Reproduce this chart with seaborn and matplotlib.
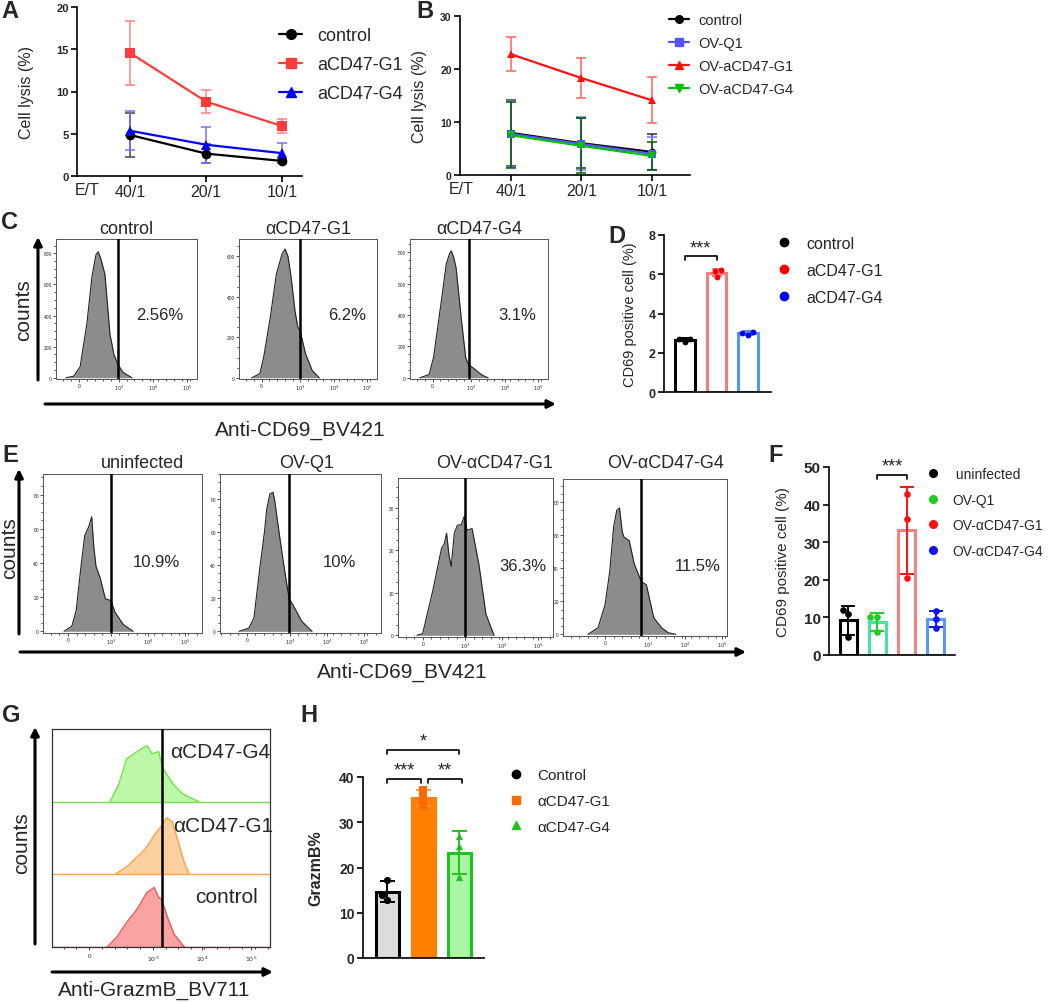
# Multi-panel figure: cell lysis, CD69 and granzyme B activation

import numpy as np
import pandas as pd
import matplotlib.pyplot as plt
import seaborn as sns
from matplotlib.lines import Line2D
from matplotlib.ticker import AutoMinorLocator

sns.set_theme(style="ticks")
plt.rcParams["font.family"] = ["Liberation Sans", "DejaVu Sans"]

# ---------------- data ----------------
et_ratio = ["40/1", "20/1", "10/1"]

# panel A (mean, SD)
a_labels = ["control", "aCD47-G1", "aCD47-G4"]
a_control = [4.85, 2.65, 1.78]
a_control_sd = [2.65, 1.1, 0.2]
a_g1 = [14.55, 8.8, 5.9]
a_g1_sd = [3.75, 1.4, 0.8]
a_g4 = [5.35, 3.7, 2.7]
a_g4_sd = [2.3, 2.15, 1.2]

# panel B (mean, SD)
b_labels = ["control", "OV-Q1", "OV-aCD47-G1", "OV-aCD47-G4"]
b_control = [7.95, 6.0, 4.35]
b_control_sd = [6.2, 4.7, 3.4]
b_q1 = [7.75, 5.85, 4.0]
b_q1_sd = [6.3, 5.0, 3.1]
b_g1 = [22.8, 18.3, 14.1]
b_g1_sd = [3.2, 3.8, 4.3]
b_g4 = [7.5, 5.5, 3.6]
b_g4_sd = [6.2, 5.2, 2.7]

# panel C histograms (display position, counts)
c_titles = ["control", "αCD47-G1", "αCD47-G4"]
c_pct = ["2.56%", "6.2%", "3.1%"]
c_gate = [1.07, 1.1, 1.03]
c_ctrl_u = [-0.36, -0.15, 0.03, 0.22, 0.36, 0.47, 0.53, 0.6, 0.72, 0.86, 0.97, 1.07, 1.22, 1.47]
c_ctrl_n = [0, 10, 70, 350, 650, 790, 810, 770, 665, 280, 150, 90, 35, 0]
c_g1_u = [-0.28, -0.05, 0.06, 0.25, 0.42, 0.58, 0.67, 0.75, 0.83, 0.95, 1.03, 1.1, 1.25, 1.44, 1.64]
c_g1_n = [0, 20, 100, 300, 510, 610, 636, 600, 510, 330, 250, 230, 118, 36, 0]
c_g4_u = [-0.36, -0.1, 0.03, 0.25, 0.39, 0.48, 0.53, 0.6, 0.67, 0.81, 0.94, 1.03, 1.14, 1.42, 1.58]
c_g4_n = [0, 20, 130, 490, 725, 790, 810, 770, 700, 390, 130, 80, 65, 15, 0]

# panel D (individual replicates)
d_labels = ["control", "aCD47-G1", "aCD47-G4"]
d_control = [2.57, 2.68, 2.72]
d_g1 = [6.2, 5.88, 6.17]
d_g4 = [2.88, 3.08, 3.0]

# panel E histograms
e_titles = ["uninfected", "OV-Q1", "OV-αCD47-G1", "OV-αCD47-G4"]
e_pct = ["10.9%", "10%", "36.3%", "11.5%"]
e_gate = [1.1, 1.08, 1.1, 0.93]
e_uninf_u = [-0.1, 0.1, 0.21, 0.33, 0.43, 0.53, 0.61, 0.66, 0.72, 0.83, 0.96, 1.1, 1.21, 1.42, 1.67]
e_uninf_n = [0, 3, 12, 37, 56, 61, 67, 50, 38, 31, 19, 18, 11, 4, 0]
e_q1_u = [-0.2, 0.05, 0.18, 0.33, 0.45, 0.51, 0.59, 0.67, 0.72, 0.77, 0.92, 1.08, 1.18, 1.41, 1.67]
e_q1_n = [0, 2, 8, 38, 60, 74, 83, 84, 78, 69, 44, 20, 16, 6, 0]
e_g1_u = [-0.15, 0.0, 0.26, 0.49, 0.56, 0.62, 0.68, 0.74, 0.82, 0.9, 1.0, 1.08, 1.15, 1.28, 1.46, 1.64, 1.85]
e_g1_n = [0, 0.4, 10.4, 20.5, 21.5, 24, 19, 16.2, 24, 25.9, 26, 28, 24.7, 25.1, 16.6, 5, 0]
e_g4_u = [-0.44, -0.18, 0.0, 0.12, 0.22, 0.3, 0.37, 0.44, 0.49, 0.62, 0.75, 0.93, 1.06, 1.25, 1.45, 1.62, 1.82]
e_g4_n = [0, 4, 18, 38, 65, 75, 76.5, 62, 58.7, 56.7, 42.5, 32, 30, 10, 4, 1, 0]

# panel F (individual replicates)
f_labels = [" uninfected", "OV-Q1", "OV-αCD47-G1", "OV-αCD47-G4"]
f_uninf = [12.0, 10.9, 4.9]
f_q1 = [10.2, 10.2, 6.0]
f_g1 = [42.9, 36.3, 20.4]
f_g4 = [11.8, 9.6, 7.3]

# panel G stacked histograms (bottom to top: control, G1, G4)
g_labels = ["control", "αCD47-G1", "αCD47-G4"]
g_gate = 1.49
g_ctrl_u = [0.37, 0.57, 0.77, 0.98, 1.18, 1.33, 1.42, 1.48, 1.59, 1.73, 1.94]
g_ctrl_n = [0, 14, 34, 52, 75, 82, 68, 66, 43, 18, 0]
g_g1_u = [0.53, 0.77, 0.98, 1.12, 1.22, 1.33, 1.46, 1.59, 1.7, 1.8, 1.94, 2.04]
g_g1_n = [0, 10.5, 24, 33, 42, 54, 65, 78, 72, 49, 17, 0]
g_g4_u = [0.43, 0.6, 0.77, 0.98, 1.18, 1.29, 1.42, 1.5, 1.59, 1.73, 1.9, 2.07, 2.24]
g_g4_n = [0, 23, 59, 69, 77, 66, 69, 46, 37, 23, 11, 5.5, 0]

# panel H (individual replicates)
h_labels = ["Control", "αCD47-G1", "αCD47-G4"]
h_control = [12.8, 17.3, 13.9]
h_g1 = [37.2, 35.3, 33.6]
h_g4 = [27.0, 24.8, 17.9]

# ---------------- layout helpers ----------------
W, H = 1050, 1003
fig = plt.figure(figsize=(10.5, 10.03), dpi=100)


def add_ax(l, t, r, b):
    return fig.add_axes([l / W, 1 - b / H, (r - l) / W, (b - t) / H])


flow_ticks = [0, 1.1, 2.05, 3.0]
flow_ticklabels = ["0", "$10^3$", "$10^4$", "$10^5$"]


def style_axis(ax, lw=1.2):
    sns.despine(ax=ax)
    for s in ["left", "bottom"]:
        ax.spines[s].set_linewidth(lw)
        ax.spines[s].set_color("black")
    ax.tick_params(width=lw, length=4, color="black", pad=2)


def bold_yticks(ax, size):
    ax.tick_params(axis="y", labelsize=size)
    for lab in ax.get_yticklabels():
        lab.set_fontweight("bold")


def line_panel(ax, means, sds, labels, colors, ecolors, markers, msize):
    rows = []
    for lab, m in zip(labels, means):
        for r, v in zip(et_ratio, m):
            rows.append((r, lab, v))
    df = pd.DataFrame(rows, columns=["ratio", "group", "lysis"])
    sns.lineplot(data=df, x="ratio", y="lysis", hue="group", style="group",
                 palette=dict(zip(labels, colors)), markers=dict(zip(labels, markers)),
                 dashes=False, markersize=msize, markeredgewidth=0, linewidth=1.6,
                 sort=False, legend=False, ax=ax)
    for m, s, c in zip(means, sds, ecolors):
        ax.errorbar(et_ratio, m, yerr=s, fmt="none", ecolor=c, elinewidth=1.1,
                    capsize=3.5, capthick=1.1, zorder=1)
    ax.set_xlabel("")


def flow_hist(ax, u, n, gate, pct, pct_u, pct_y, xlim, ylim, yticks):
    ax.fill_between(u, n, 0, color="#8c8c8c", lw=0, zorder=1)
    ax.plot(u, n, color="#222222", lw=0.8, zorder=2)
    ax.axvline(gate, color="black", lw=1.8, zorder=3)
    ax.set_xlim(*xlim)
    ax.set_ylim(*ylim)
    ax.set_xticks(flow_ticks)
    ax.set_xticklabels(flow_ticklabels)
    ax.set_yticks(yticks)
    ax.set_yticklabels([str(t) for t in yticks])
    ax.xaxis.set_minor_locator(AutoMinorLocator(5))
    ax.yaxis.set_minor_locator(AutoMinorLocator(4))
    ax.tick_params(which="both", labelsize=3.5, length=2, width=0.6, pad=1, color="#333333")
    ax.tick_params(which="minor", length=1.2)
    for s in ax.spines.values():
        s.set_linewidth(0.7)
        s.set_color("#555555")
    ax.text(pct_u, pct_y, pct, transform=ax.get_xaxis_transform(), ha="center",
            va="center", fontsize=12)


def bar_panel(ax, values, labels, edge, face, pts, pmarkers, ecols, width, lw, psize, capsize):
    df = pd.DataFrame({"group": np.repeat(labels, [len(v) for v in values]),
                       "value": np.concatenate(values)})
    sns.barplot(data=df, x="group", y="value", hue="group", order=labels, hue_order=labels,
                palette=dict(zip(labels, face)), errorbar=None, width=width,
                linewidth=lw, saturation=1, legend=False, ax=ax)
    for cont, ec, fc in zip(ax.containers, edge, face):
        for p in cont:
            p.set_edgecolor(ec)
            p.set_facecolor(fc)
    stats = df.groupby("group", sort=False)["value"].agg(["mean", "std"])
    for i, g in enumerate(labels):
        ax.errorbar([g], [stats.loc[g, "mean"]], yerr=[stats.loc[g, "std"]], fmt="none",
                    ecolor=ecols[i], elinewidth=1.4, capsize=capsize, capthick=1.4, zorder=4)
        sns.swarmplot(data=df[df["group"] == g], x="group", y="value", order=labels,
                      color=pts[i], marker=pmarkers[i], size=psize, linewidth=0,
                      ax=ax, zorder=5)
    ax.set_xlabel("")
    ax.set_xticks([])


def bracket(ax, x1, x2, y, h, text, fs):
    ax.plot([x1, x1, x2, x2], [y - h, y, y, y - h], color="black", lw=1.2, clip_on=False)
    ax.text((x1 + x2) / 2, y, text, ha="center", va="bottom", fontsize=fs)


def dot_legend(ax, labels, colors, markers, x, y, fs, spacing, ms):
    handles = [Line2D([], [], ls="none", marker=m, color=c, markersize=ms)
               for c, m in zip(colors, markers)]
    ax.legend(handles, labels, loc="upper left", bbox_to_anchor=(x / W, 1 - y / H),
              bbox_transform=fig.transFigure, frameon=False, fontsize=fs,
              handlelength=0.8, handletextpad=1.0, labelspacing=spacing,
              borderpad=0, borderaxespad=0)


# ---------------- A ----------------
axA = add_ax(77, 8, 302, 177)
line_panel(axA, [a_control, a_g1, a_g4], [a_control_sd, a_g1_sd, a_g4_sd], a_labels,
           ["black", "#ff3b3b", "#0000ff"], ["#444444", "#ff8080", "#7070ff"],
           ["o", "s", "^"], 7)
axA.set_ylim(0, 20)
axA.set_xlim(-0.7, 2.26)
axA.set_yticks([0, 5, 10, 15, 20])
style_axis(axA)
bold_yticks(axA, 8)
axA.tick_params(axis="x", labelsize=11.5)
axA.set_ylabel("Cell lysis (%)", fontsize=11.5)
axA.yaxis.set_label_coords(-0.19, 0.5)
axA.text(-0.57, -0.035, "E/T", transform=axA.get_xaxis_transform(), ha="center",
         va="top", fontsize=11.5)
hA = [Line2D([], [], color=c, marker=m, markersize=7, lw=1.6)
      for c, m in zip(["black", "#ff3b3b", "#0000ff"], ["o", "s", "^"])]
axA.legend(hA, a_labels, loc="upper left", bbox_to_anchor=(279 / W, 1 - 28 / H),
           bbox_transform=fig.transFigure, frameon=False, fontsize=13,
           handlelength=1.3, handletextpad=0.8, labelspacing=0.66, borderpad=0, borderaxespad=0)

# ---------------- B ----------------
axB = add_ax(460, 17, 690, 176)
line_panel(axB, [b_control, b_q1, b_g1, b_g4], [b_control_sd, b_q1_sd, b_g1_sd, b_g4_sd],
           b_labels, ["black", "#5555ff", "#ff1010", "#00c000"],
           ["#333333", "#7777ff", "#ff6060", "#006400"], ["o", "s", "^", "v"], 5.5)
axB.set_ylim(0, 30)
axB.set_xlim(-0.72, 2.54)
axB.set_yticks([0, 10, 20, 30])
style_axis(axB)
bold_yticks(axB, 7.5)
axB.tick_params(axis="x", labelsize=11.5)
axB.set_ylabel("Cell lysis (%)", fontsize=11.5)
axB.yaxis.set_label_coords(-0.145, 0.5)
axB.text(-0.7, -0.035, "E/T", transform=axB.get_xaxis_transform(), ha="center",
         va="top", fontsize=11.5)
hB = [Line2D([], [], color=c, marker=m, markersize=5.5, lw=1.6)
      for c, m in zip(["black", "#5555ff", "#ff1010", "#00c000"], ["o", "s", "^", "v"])]
axB.legend(hB, b_labels, loc="upper left", bbox_to_anchor=(669 / W, 1 - 14 / H),
           bbox_transform=fig.transFigure, frameon=False, fontsize=10.5,
           handlelength=1.4, handletextpad=0.6, labelspacing=0.62, borderpad=0, borderaxespad=0)

# ---------------- C ----------------
c_boxes = [(56, 240, 197, 380), (239, 240, 377, 380), (410, 240, 548, 380)]
c_data = [(c_ctrl_u, c_ctrl_n), (c_g1_u, c_g1_n), (c_g4_u, c_g4_n)]
c_ylims = [(-8, 892), (-6, 685), (-8, 885)]
c_yticks = [[0, 200, 400, 600, 800], [0, 200, 400, 600], [0, 200, 400, 600, 800]]
c_pct_u = [2.25, 2.44, 2.4]
for i, (bx, (u, n)) in enumerate(zip(c_boxes, c_data)):
    ax = add_ax(*bx)
    flow_hist(ax, u, n, c_gate[i], c_pct[i], c_pct_u[i], 0.46,
              (-0.64, 3.28), c_ylims[i], c_yticks[i])
    fig.text((bx[0] + bx[2]) / 2 / W, 1 - 230 / H, c_titles[i], ha="center",
             va="center", fontsize=13)

# ---------------- D ----------------
axD = add_ax(664, 236, 771, 393)
bar_panel(axD, [d_control, d_g1, d_g4], d_labels, ["black", "#f47c7c", "#4f95ff"],
          ["white"] * 3, ["black", "#ff0000", "#0000ff"], ["o"] * 3,
          ["black", "#f47c7c", "#4f95ff"], 0.63, 2.2, 4.2, 3.6)
axD.set_ylim(0, 8)
axD.set_xlim(-0.67, 2.73)
axD.set_yticks([0, 2, 4, 6, 8])
style_axis(axD)
bold_yticks(axD, 9)
axD.tick_params(axis="x", length=0)
axD.set_ylabel("CD69 positive cell (%)", fontsize=10.5)
axD.yaxis.set_label_coords(-0.25, 0.5)
bracket(axD, 0, 1, 6.93, 0.2, "***", 13)
dot_legend(axD, d_labels, ["black", "#ff0000", "#0000ff"], ["o"] * 3, 778, 237, 11.5, 0.74, 6)

# ---------------- E ----------------
e_boxes = [(43, 475, 202, 634), (220, 475, 381, 634), (398, 479, 553, 638), (563, 480, 727, 637)]
e_data = [(e_uninf_u, e_uninf_n), (e_q1_u, e_q1_n), (e_g1_u, e_g1_n), (e_g4_u, e_g4_n)]
e_xlims = [(-0.64, 3.44), (-0.69, 3.44), (-0.64, 3.38), (-1.08, 3.13)]
e_ylims = [(-1, 92), (-1, 95), (-0.4, 37), (-1, 94)]
e_yticks = [[0, 20, 40, 60, 80], [0, 20, 40, 60, 80], [0, 10, 20, 30], [0, 20, 40, 60, 80]]
e_pct_u = [2.28, 2.38, 2.59, 2.38]
e_title_x = [143, 307, 495, 666]
for i, (bx, (u, n)) in enumerate(zip(e_boxes, e_data)):
    ax = add_ax(*bx)
    flow_hist(ax, u, n, e_gate[i], e_pct[i], e_pct_u[i], 0.45,
              e_xlims[i], e_ylims[i], e_yticks[i])
    fig.text(e_title_x[i] / W, 1 - 464 / H, e_titles[i], ha="center", va="center",
             fontsize=13)

# ---------------- F ----------------
axF = add_ax(829, 468, 955, 656)
bar_panel(axF, [f_uninf, f_q1, f_g1, f_g4], f_labels,
          ["black", "#3ee6a0", "#f88080", "#5599ff"], ["white"] * 4,
          ["black", "#22cc22", "#ff1010", "#1010ff"], ["o"] * 4,
          ["black", "#22cc22", "#ff1010", "#1010ff"], 0.58, 2.2, 4.8, 4.8)
axF.set_ylim(0, 50)
axF.set_xlim(-0.65, 3.65)
axF.set_yticks([0, 10, 20, 30, 40, 50])
style_axis(axF)
bold_yticks(axF, 11)
axF.tick_params(axis="x", length=0)
axF.set_ylabel("CD69 positive cell (%)", fontsize=11)
axF.yaxis.set_label_coords(-0.31, 0.5)
bracket(axF, 1, 2, 47.9, 1.0, "***", 13)
dot_legend(axF, f_labels, ["black", "#22cc22", "#ff1010", "#1010ff"], ["o"] * 4,
           927, 468, 10, 0.83, 5.5)

# ---------------- G ----------------
axG = add_ax(52, 730, 270, 948)
g_lanes = [(g_ctrl_u, g_ctrl_n, "#f9a3a3", "#f25555"),
           (g_g1_u, g_g1_n, "#fdd0a0", "#ffa043"),
           (g_g4_u, g_g4_n, "#bdf7a8", "#6fe04a")]
for k, (u, n, fc, ec) in enumerate(g_lanes):
    base = 100 * k
    axG.fill_between(u, np.array(n) + base, base, color=fc, lw=0, zorder=1)
    axG.plot(u, np.array(n) + base, color=ec, lw=1.0, zorder=2)
    axG.axhline(base, color=ec, lw=1.0, zorder=2)
axG.axvline(g_gate, color="black", lw=1.8, zorder=3)
axG.set_xlim(-0.755, 3.69)
axG.set_ylim(0, 300)
axG.set_yticks([])
axG.set_xticks(flow_ticks[:1] + [1.3, 2.3, 3.3])
axG.set_xticklabels(flow_ticklabels)
axG.xaxis.set_minor_locator(AutoMinorLocator(5))
axG.tick_params(which="both", labelsize=4.5, length=2.5, width=0.6, pad=2)
axG.tick_params(which="minor", length=1.5)
for s in axG.spines.values():
    s.set_linewidth(0.9)
    s.set_color("#333333")
g_text_pos = [(195, 898), (173, 827), (170, 753)]
for (tx, ty), lab in zip(g_text_pos, g_labels):
    fig.text(tx / W, 1 - ty / H, lab, ha="left", va="center", fontsize=15)

# ---------------- H ----------------
axH = add_ax(363, 778, 484, 959)
bar_panel(axH, [h_control, h_g1, h_g4], h_labels, ["black", "#ff7f00", "#22c022"],
          ["#dcdcdc", "#ff7f00", "#a6f7a0"], ["black", "#ff6a00", "#22c022"],
          ["o", "s", "^"], ["black", "#ff9a40", "#22c022"], 0.64, 2.2, 5.2, 5.4)
axH.set_ylim(0, 40)
axH.set_xlim(-0.67, 2.69)
axH.set_yticks([0, 10, 20, 30, 40])
style_axis(axH)
bold_yticks(axH, 10)
axH.tick_params(axis="x", length=0)
axH.set_ylabel("GrazmB%", fontsize=11.5, fontweight="bold")
axH.yaxis.set_label_coords(-0.33, 0.5)
bracket(axH, 0.0, 0.94, 39.6, 0.9, "***", 13)
bracket(axH, 1.14, 2.08, 39.6, 0.9, "**", 13)
bracket(axH, 0.0, 2.0, 46.0, 0.9, "*", 13)
dot_legend(axH, h_labels, ["black", "#ff6a00", "#22c022"], ["o", "s", "^"],
           510, 769, 11, 0.78, 6)

# ---------------- overlay: arrows, axis titles, panel letters ----------------
over = fig.add_axes([0, 0, 1, 1])
over.set_xlim(0, W)
over.set_ylim(H, 0)
over.axis("off")
arrow = dict(arrowstyle="-|>", color="black", lw=2.2, mutation_scale=12, shrinkA=0, shrinkB=0)
for (x0, y0, x1, y1) in [(38, 381, 38, 238), (45, 405, 556, 405),
                         (19, 635, 19, 470), (20, 653, 746, 653),
                         (35, 945, 35, 728), (52, 973, 273, 973)]:
    over.annotate("", xy=(x1, y1), xytext=(x0, y0), arrowprops=arrow)
for (x, y) in [(24, 310), (10, 548), (22, 843)]:
    over.text(x, y, "counts", rotation=90, ha="center", va="center", fontsize=15)
over.text(300, 430, "Anti-CD69_BV421", ha="center", va="center", fontsize=15)
over.text(402, 672, "Anti-CD69_BV421", ha="center", va="center", fontsize=15)
over.text(154, 990, "Anti-GrazmB_BV711", ha="center", va="center", fontsize=15)
for lab, (x, y) in zip("ABCDEFGH", [(10, 11), (425, 11), (10, 222), (617, 236),
                                    (10, 455), (776, 455), (11, 716), (309, 716)]):
    over.text(x, y, lab, ha="center", va="center", fontsize=17, fontweight="bold")

fig.savefig("out.png", dpi=100)
